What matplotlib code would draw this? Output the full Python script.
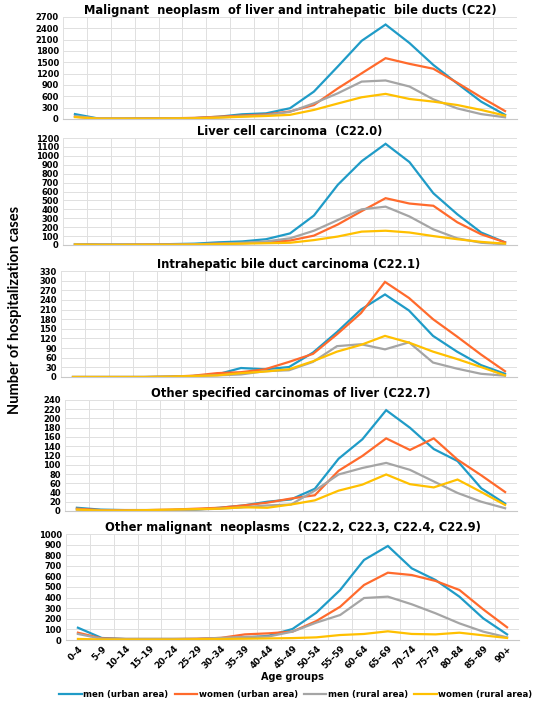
import matplotlib
matplotlib.use("Agg")
import matplotlib.pyplot as plt
from matplotlib.ticker import MultipleLocator, FixedLocator

age_groups = ["0–4", "5–9", "10–14", "15–19", "20–24", "25–29", "30–34", "35–39",
              "40–44", "45–49", "50–54", "55–59", "60–64", "65–69", "70–74",
              "75–79", "80–84", "85–89", "90+"]
series_names = ["men (urban area)", "women (urban area)", "men (rural area)", "women (rural area)"]
colors = ["#1f9bc7", "#ff6a2c", "#a5a5a5", "#ffc000"]

# C22
c22_men_urban = [130, 10, 10, 15, 20, 25, 60, 125, 150, 285, 725, 1390, 2070, 2500, 2010, 1430, 940, 460, 110]
c22_women_urban = [60, 10, 10, 15, 20, 30, 60, 90, 120, 200, 370, 810, 1210, 1610, 1460, 1330, 960, 575, 210]
c22_men_rural = [80, 10, 10, 10, 15, 20, 40, 70, 100, 190, 415, 680, 990, 1020, 860, 520, 280, 130, 45]
c22_women_rural = [50, 10, 10, 10, 15, 20, 35, 60, 80, 110, 240, 410, 575, 665, 530, 460, 370, 240, 90]

# C22.0
c220_men_urban = [10, 5, 5, 5, 10, 15, 30, 40, 65, 130, 330, 675, 940, 1135, 930, 580, 345, 140, 30]
c220_women_urban = [5, 3, 3, 5, 5, 8, 15, 20, 30, 50, 105, 230, 380, 525, 465, 440, 255, 120, 30]
c220_men_rural = [10, 3, 3, 3, 5, 8, 15, 25, 40, 75, 160, 280, 400, 430, 320, 175, 75, 25, 8]
c220_women_rural = [5, 2, 2, 3, 3, 5, 10, 15, 20, 25, 55, 95, 150, 160, 140, 100, 65, 35, 15]

# C22.1
c221_men_urban = [0, 0, 0, 0, 1, 3, 8, 28, 24, 31, 76, 140, 210, 257, 207, 128, 79, 37, 10]
c221_women_urban = [0, 0, 0, 0, 1, 4, 12, 15, 24, 47, 72, 133, 199, 296, 246, 180, 126, 70, 18]
c221_men_rural = [0, 0, 0, 0, 1, 3, 5, 8, 18, 21, 47, 96, 102, 86, 108, 45, 26, 10, 4]
c221_women_rural = [0, 0, 0, 0, 1, 3, 5, 12, 17, 24, 49, 79, 100, 128, 107, 79, 56, 31, 5]

# C22.7
c227_men_urban = [7, 3, 2, 2, 2, 3, 7, 12, 20, 25, 48, 113, 155, 218, 180, 134, 108, 49, 16]
c227_women_urban = [5, 2, 2, 2, 3, 5, 7, 12, 18, 27, 34, 87, 119, 157, 132, 157, 111, 77, 41]
c227_men_rural = [3, 1, 1, 2, 2, 3, 5, 8, 12, 14, 44, 79, 93, 104, 89, 64, 39, 20, 6]
c227_women_rural = [3, 1, 1, 2, 3, 4, 5, 8, 7, 14, 23, 44, 57, 79, 58, 51, 68, 41, 13]

# C22.2, C22.3, C22.4, C22.9
other_men_urban = [116, 19, 10, 10, 10, 10, 15, 22, 40, 104, 258, 472, 755, 887, 676, 566, 409, 204, 53]
other_women_urban = [69, 15, 10, 10, 10, 12, 20, 53, 63, 79, 179, 314, 519, 635, 613, 557, 472, 289, 120]
other_men_rural = [57, 12, 8, 8, 8, 10, 20, 30, 33, 79, 164, 236, 396, 409, 337, 252, 157, 79, 25]
other_women_rural = [10, 5, 5, 5, 5, 8, 10, 12, 15, 18, 25, 47, 57, 82, 57, 53, 69, 44, 19]

panels = [
    ("Malignant  neoplasm  of liver and intrahepatic  bile ducts (C22)",
     [c22_men_urban, c22_women_urban, c22_men_rural, c22_women_rural], 2700, 300),
    ("Liver cell carcinoma  (C22.0)",
     [c220_men_urban, c220_women_urban, c220_men_rural, c220_women_rural], 1200, 100),
    ("Intrahepatic bile duct carcinoma (C22.1)",
     [c221_men_urban, c221_women_urban, c221_men_rural, c221_women_rural], 330, 30),
    ("Other specified carcinomas of liver (C22.7)",
     [c227_men_urban, c227_women_urban, c227_men_rural, c227_women_rural], 240, 20),
    ("Other malignant  neoplasms  (C22.2, C22.3, C22.4, C22.9)",
     [other_men_urban, other_women_urban, other_men_rural, other_women_rural], 1000, 100),
]

# axes boxes in pixels: left, right, top, bottom
W, H = 550, 704
boxes = [(63, 517, 17, 119), (63, 517, 138, 245), (61, 517, 271, 377),
         (65, 517, 400, 511), (66, 519, 534, 640)]

fig = plt.figure(figsize=(5.5, 7.04), dpi=100)
x = list(range(len(age_groups)))

for (title, data, ymax, step), (l, r, t, b) in zip(panels, boxes):
    ax = fig.add_axes([l / W, 1 - b / H, (r - l) / W, (b - t) / H])
    for vals, c, name in zip(data, colors, series_names):
        ax.plot(x, vals, color=c, lw=1.6, label=name, solid_joinstyle="miter")
    ax.set_xlim(-0.5, len(age_groups) - 0.5)
    ax.set_ylim(0, ymax)
    ax.yaxis.set_major_locator(MultipleLocator(step))
    ax.xaxis.set_major_locator(FixedLocator(x))
    ax.xaxis.set_minor_locator(FixedLocator([i - 0.5 for i in range(len(age_groups) + 1)]))
    ax.grid(True, which="major", axis="y", color="#e0e0e0", lw=0.7)
    ax.grid(True, which="minor", axis="x", color="#e0e0e0", lw=0.7)
    ax.set_axisbelow(True)
    for s in ["top", "left", "right"]:
        ax.spines[s].set_visible(False)
    ax.spines["bottom"].set_color("#c8c8c8")
    ax.tick_params(which="both", length=0)
    ax.tick_params(axis="y", labelsize=6, pad=3)
    for lab in ax.get_yticklabels():
        lab.set_fontweight("bold")
    ax.set_title(title, fontsize=8.3, fontweight="bold", pad=2)
    ax.set_xticklabels([])
    last_ax = ax

last_ax.set_xticklabels(age_groups, rotation=45, ha="right", rotation_mode="anchor",
                        fontsize=6.3, fontweight="bold")
last_ax.tick_params(axis="x", pad=3)
last_ax.set_xlabel("Age groups", fontsize=7, fontweight="bold", labelpad=1)

fig.text(0.027, 0.56, "Number of hospitalization cases", rotation=90, va="center",
         ha="center", fontsize=10.5, fontweight="bold", family="Lato")

handles, labels = last_ax.get_legend_handles_labels()
fig.legend(handles, labels, loc="center", bbox_to_anchor=(0.538, 1 - 695 / H), ncol=4,
           frameon=False, handlelength=2.6, handletextpad=0.2,
           columnspacing=0.7, prop={"weight": "bold", "size": 6.2})

fig.savefig("out.png", dpi=100)
